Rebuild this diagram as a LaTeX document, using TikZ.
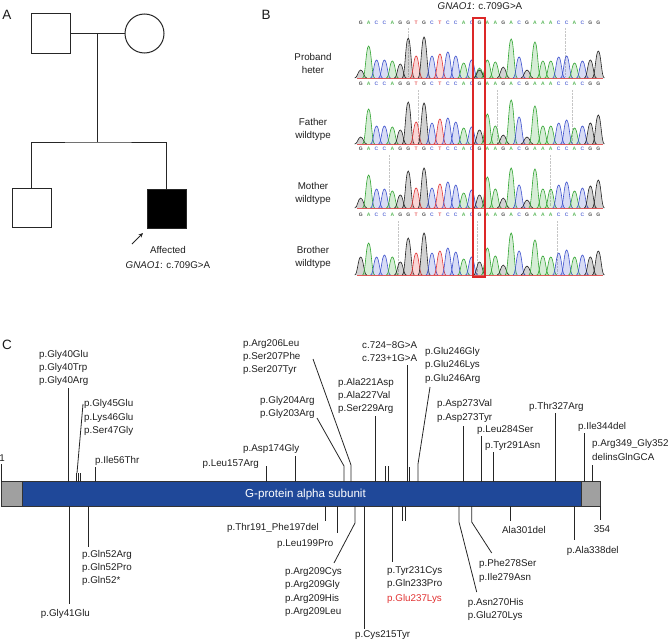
\documentclass[tikz,border=0pt]{standalone}
\usepackage{fontspec}
\setmainfont{Liberation Sans}
\usetikzlibrary{arrows.meta}
\definecolor{barblue}{RGB}{31,72,153}
\definecolor{bargrey}{RGB}{160,160,160}
\definecolor{cg}{RGB}{50,165,50}
\definecolor{cb}{RGB}{60,80,205}
\definecolor{cr}{RGB}{225,50,50}
\definecolor{ck}{RGB}{35,35,35}
\definecolor{boxred}{RGB}{220,40,40}
\definecolor{txtc}{RGB}{30,30,30}
\newcommand\labfont{\fontsize{9.8}{12}\selectfont}
\newcommand\chromtrack[2]{%
  \draw[cr!80, line width=0.6pt] (357,#1) -- (603,#1);
  \foreach \ii/\cc/\hh in {#2} {%
    \pgfmathsetmacro\px{360.7+(\ii-1)*7.92}%
    \path[fill=\cc, fill opacity=0.2, draw=\cc, draw opacity=1, line width=0.6pt]
      ({\px-6},#1) .. controls ({\px-3.2},#1) and ({\px-2.6},{#1-\hh}) .. ({\px},{#1-\hh})
      .. controls ({\px+2.6},{#1-\hh}) and ({\px+3.2},#1) .. ({\px+6},#1);
  }%
}
\begin{document}
\begin{tikzpicture}[x=1pt,y=-1pt,
  txt/.style={font=\labfont, inner sep=0pt, text=txtc},
  lw/.style={txt, anchor=base west},
  le/.style={txt, anchor=base east},
  lc/.style={txt, anchor=base},
  tick/.style={draw=black!85, line width=0.8pt},
  ped/.style={draw=black!85, line width=1pt},
  pedsq/.style={ped, minimum size=39pt, inner sep=0pt, fill=white},
  panel/.style={font=\fontsize{13.5}{15}\selectfont, inner sep=0pt, text=black!90},
  seql/.style={font=\fontsize{5}{5}\selectfont\bfseries, inner sep=0pt},
  protbox/.style={draw=black!80, line width=0.8pt},
]
\useasboundingbox (0,0) rectangle (668,642);

% ---------------- Panel A ----------------
\node[panel] (pA) at (7,15) {A};
\node[pedsq] (fa) at (50.5,33.5) {};
\node[ped, circle, minimum size=39pt, inner sep=0pt] (mo) at (144.5,33.5) {};
\coordinate (mid) at (97.5,33.5);
\coordinate (sib) at (97.5,142);
\node[pedsq] (br) at (31.5,207.5) {};
\node[pedsq, fill=black] (pb) at (166.5,209) {};
\draw[ped] (fa) -- (mo);
\draw[ped] (mid) -- (sib);
\draw[ped] (br.north) |- (sib) -| (pb.north);
\coordinate (arrs) at (132,244);
\coordinate (arre) at (143,233);
\draw[-{Stealth[length=4.5pt,width=4pt]}, line width=0.8pt, black!85] (arrs) -- (arre);
\node[lc] (aff) at (168,253.5) {Affected};
\node[lc] (gn) at (168,268.5) {\textit{GNAO1}: c.709G>A};

% ---------------- Panel B ----------------
\node[panel] (pB) at (266,15) {B};
\node[lc] (ttl) at (480,9.5) {\textit{GNAO1}: c.709G>A};
\foreach \ii/\cc/\ll in {1/ck/G,2/cg/A,3/cb/C,4/cb/C,5/cg/A,6/ck/G,7/ck/G,8/cr/T,9/ck/G,10/cb/C,11/cr/T,12/cb/C,13/cb/C,14/cg/A,15/cb/C,16/ck/G,17/cg/A,18/cg/A,19/ck/G,20/cg/A,21/cb/C,22/ck/G,23/cg/A,24/cg/A,25/cg/A,26/cb/C,27/cb/C,28/cg/A,29/cb/C,30/ck/G,31/ck/G}
  \foreach \yy in {23,84,149,215}
    \node[seql, text=\cc!80] at ({360.7+(\ii-1)*7.92},\yy) {\ll};
% faint dotted guides
\foreach \xx/\ya/\yb in {408/28/76, 565/28/76, 418/90/142, 497/90/142, 572/90/142, 389/155/206, 550/155/206, 398/221/273, 477/221/273, 557/221/273}
  \draw[densely dotted, gray!45, line width=0.4pt] (\xx,\ya) -- (\xx,\yb);
\chromtrack{78}{1/ck/8,2/cg/32,3/cb/18,4/cb/18,5/cg/17,6/ck/14,7/ck/40,8/cr/22,9/ck/41,10/cb/22,11/cr/24,12/cb/26,13/cb/22,14/cg/15,15/cb/18,16/cg/10,16/ck/8,17/cg/18,18/cg/16,19/ck/11,20/cg/39,21/cb/21,22/ck/8,23/cg/36,24/cg/17,25/cg/17,26/cb/21,27/cb/22,28/cg/15,29/cb/17,30/ck/18,31/ck/27}
\chromtrack{144}{1/ck/7,2/cg/35,3/cb/18,4/cb/18,5/cg/17,6/ck/14,7/ck/42,8/cr/22,9/ck/41,10/cb/21,11/cr/25,12/cb/26,13/cb/22,14/cg/16,15/cb/17,16/ck/14,17/cg/30,18/cg/18,19/ck/9,20/cg/44,21/cb/27,22/ck/7,23/cg/38,24/cg/18,25/cg/18,26/cb/21,27/cb/24,28/cg/16,29/cb/18,30/ck/21,31/ck/29}
\chromtrack{208}{1/ck/10,2/cg/33,3/cb/19,4/cb/19,5/cg/17,6/ck/13,7/ck/37,8/cr/20,9/ck/40,10/cb/20,11/cr/24,12/cb/26,13/cb/23,14/cg/15,15/cb/18,16/ck/13,17/cg/31,18/cg/19,19/ck/10,20/cg/40,21/cb/23,22/ck/8,23/cg/39,24/cg/19,25/cg/19,26/cb/23,27/cb/26,28/cg/17,29/cb/20,30/ck/22,31/ck/28}
\chromtrack{275}{1/ck/18,2/cg/32,3/cb/18,4/cb/20,5/cg/18,6/ck/13,7/ck/37,8/cr/22,9/ck/42,10/cb/22,11/cr/24,12/cb/27,13/cb/23,14/cg/16,15/cb/18,16/ck/13,17/cg/27,18/cg/19,19/ck/10,20/cg/42,21/cb/24,22/ck/9,23/cg/35,24/cg/19,25/cg/18,26/cb/22,27/cb/25,28/cg/18,29/cb/20,30/ck/18,31/ck/24}
\draw[boxred, line width=1.5pt] (473,18) rectangle (485,277);
\node[lc] (pro1) at (313,60.5) {Proband};
\node[lc] (pro2) at (313,73.5) {heter};
\node[lc] (fat1) at (313,125.5) {Father};
\node[lc] (fat2) at (313,138.5) {wildtype};
\node[lc] (mot1) at (313,189.5) {Mother};
\node[lc] (mot2) at (313,202.5) {wildtype};
\node[lc] (bro1) at (313,253.5) {Brother};
\node[lc] (bro2) at (313,266.5) {wildtype};

% ---------------- Panel C ----------------
\node[panel] (pC) at (7,345) {C};
\draw[protbox, fill=bargrey] (1.7,481.5) rectangle (22.3,506);
\draw[protbox, fill=barblue] (22.3,481.5) rectangle (581.7,506);
\draw[protbox, fill=bargrey] (581.7,481.5) rectangle (600.7,506);
\node[txt, text=white, anchor=west, font=\fontsize{11.6}{13}\selectfont] (dom) at (245,494) {G-protein alpha subunit};

% top labels
\node[lc] (n1) at (2,461.5) {1};
\draw[tick] (1.7,464) -- (1.7,481.5);
\node[lw] (g40a) at (39,357.5) {p.Gly40Glu};
\node[lw] (g40b) at (39,370.5) {p.Gly40Trp};
\node[lw] (g40c) at (39,383.5) {p.Gly40Arg};
\draw[tick] (68.3,388) -- (68.3,481.5);
\node[lw] (g45a) at (84,406.5) {p.Gly45Glu};
\node[lw] (g45b) at (84,420.5) {p.Lys46Glu};
\node[lw] (g45c) at (84,433.5) {p.Ser47Gly};
\draw[tick] (83,404) -- (77,473);
\draw[tick] (76.7,473) -- (76.7,481.5);
\draw[tick] (78.7,473) -- (78.7,481.5);
\draw[tick] (80.6,473) -- (80.6,481.5);
\node[lw] (i56) at (95,463.5) {p.Ile56Thr};
\draw[tick] (95.7,467) -- (95.7,481.5);
\node[le] (l157) at (259,466.5) {p.Leu157Arg};
\draw[tick] (266.7,466) -- (266.7,481.5);
\node[lw] (a174) at (243,451.5) {p.Asp174Gly};
\draw[tick] (295.5,456) -- (295.5,481.5);
\node[lw] (g204) at (260,403.5) {p.Gly204Arg};
\node[lw] (g203) at (260,416.5) {p.Gly203Arg};
\draw[tick] (317,418) -- (344,466) -- (344,481.5);
\node[lw] (r206) at (243,346.5) {p.Arg206Leu};
\node[lw] (s207a) at (243,359.5) {p.Ser207Phe};
\node[lw] (s207b) at (243,372.5) {p.Ser207Tyr};
\draw[tick] (313,359) -- (351,465) -- (351,481.5);
\node[lw] (a221) at (338,385.5) {p.Ala221Asp};
\node[lw] (a227) at (338,398.5) {p.Ala227Val};
\node[lw] (s229) at (338,411.5) {p.Ser229Arg};
\draw[tick] (375.7,416) -- (375.7,481.5);
\draw[tick] (385.8,466) -- (385.8,481.5);
\draw[tick] (388.4,466) -- (388.4,481.5);
\node[lw] (c724) at (362,348.5) {c.724−8G>A};
\node[lw] (c723) at (362,361.5) {c.723+1G>A};
\draw[tick] (407.7,365) -- (407.7,481.5);
\draw[tick] (409.2,467) -- (409.2,481.5);
\node[lw] (e246a) at (425,354.5) {p.Glu246Gly};
\node[lw] (e246b) at (425,367.5) {p.Glu246Lys};
\node[lw] (e246c) at (425,381.5) {p.Glu246Arg};
\draw[tick] (430,387) -- (418,464) -- (418,481.5);
\node[lw] (d273a) at (437,406.5) {p.Asp273Val};
\node[lw] (d273b) at (437,420.5) {p.Asp273Tyr};
\draw[tick] (463.3,426) -- (463.3,481.5);
\node[lw] (l284) at (477,432.5) {p.Leu284Ser};
\draw[tick] (481.7,436) -- (481.7,481.5);
\node[lw] (y291) at (485,448.5) {p.Tyr291Asn};
\draw[tick] (493.3,452) -- (493.3,481.5);
\node[lw] (t327) at (529,409.5) {p.Thr327Arg};
\draw[tick] (555,413) -- (555,481.5);
\node[lw] (i344) at (578,429.5) {p.Ile344del};
\draw[tick] (584,433) -- (584,481.5);
\node[lw] (r349a) at (592,446.5) {p.Arg349\_Gly352};
\node[lw] (r349b) at (592,460.5) {delinsGlnGCA};
\draw[tick] (592.7,465) -- (592.7,481.5);

% bottom labels
\node[lw] (g41) at (40.7,616.5) {p.Gly41Glu};
\draw[tick] (69.3,506) -- (69.3,604);
\node[lw] (q52a) at (82,557.5) {p.Gln52Arg};
\node[lw] (q52b) at (82,570.5) {p.Gln52Pro};
\node[lw] (q52c) at (82,583.5) {p.Gln52*};
\draw[tick] (88.3,506) -- (88.3,547);
\node[lw] (t191) at (227,530.5) {p.Thr191\_Phe197del};
\draw[tick] (325,506) -- (325,521);
\node[lw] (l199) at (277,546.5) {p.Leu199Pro};
\draw[tick] (337.3,506) -- (337.3,533);
\node[lw] (r209a) at (285,574.2) {p.Arg209Cys};
\node[lw] (r209b) at (285,587.7) {p.Arg209Gly};
\node[lw] (r209c) at (285,601.1) {p.Arg209His};
\node[lw] (r209d) at (285,614.2) {p.Arg209Leu};
\draw[tick] (355,506) -- (355,523) -- (334,563);
\node[lw] (c215) at (355,637.5) {p.Cys215Tyr};
\draw[tick] (364.3,506) -- (364.3,629);
\node[lw] (y231) at (387,573.5) {p.Tyr231Cys};
\node[lw] (q233) at (387,586.8) {p.Gln233Pro};
\node[lw, text=cr] (e237) at (387,601.2) {p.Glu237Lys};
\draw[tick] (392.7,506) -- (392.7,562);
\draw[tick] (402.5,506) -- (402.5,521);
\draw[tick] (405.8,506) -- (405.8,521);
\node[lw] (n270a) at (467.7,605.5) {p.Asn270His};
\node[lw] (n270b) at (467.7,618.5) {p.Glu270Lys};
\draw[tick] (459,506) -- (459,522) -- (476.7,592);
\node[lw] (f278) at (479,566.2) {p.Phe278Ser};
\node[lw] (i279) at (479,580.2) {p.Ile279Asn};
\draw[tick] (471.7,506) -- (471.7,522) -- (491.7,553);
\node[lw] (a301) at (502,533.5) {Ala301del};
\draw[tick] (510.7,506) -- (510.7,521);
\node[lw] (a338) at (566.7,553.5) {p.Ala338del};
\draw[tick] (574,506) -- (574,540);
\node[lc] (n354) at (602,532.5) {354};
\draw[tick] (600.7,506) -- (600.7,520);
\end{tikzpicture}
\end{document}
